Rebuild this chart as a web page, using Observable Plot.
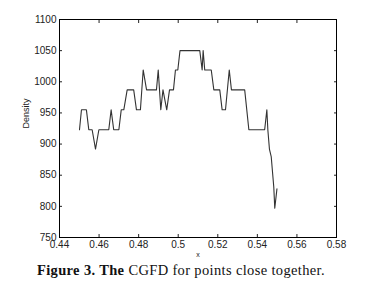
<!DOCTYPE html>
<html><head><meta charset="utf-8">
<script src="https://cdn.jsdelivr.net/npm/d3@7"></script>
<script src="https://cdn.jsdelivr.net/npm/@observablehq/plot@0.6"></script>
<style>
body{margin:0;background:#fff;}
#cap{font-family:"Liberation Serif","Times New Roman",serif;font-size:14.5px;letter-spacing:0.35px;color:#111;line-height:16px;margin-top:3.5px;padding-left:37px;white-space:nowrap;}
</style></head><body>
<div id="chart"></div>
<div id="cap"><b>Figure 3. The</b> CGFD for points close together.</div>
<script>
const xValues = [0.4501,0.4511,0.4536,0.4548,0.4565,0.4582,0.4599,0.4649,0.4661,0.4674,0.4700,0.4712,0.4725,0.4742,0.4775,0.4789,0.4809,0.4823,0.4840,0.4890,0.4899,0.4912,0.4923,0.4942,0.4956,0.4976,0.4986,0.4998,0.5009,0.5109,0.5121,0.5126,0.5134,0.5167,0.5180,0.5210,0.5222,0.5239,0.5258,0.5269,0.5336,0.5357,0.5437,0.5448,0.5453,0.5461,0.5470,0.5483,0.5488,0.5499];
const density = [923,955,955,923,923,892,923,923,955,923,923,955,955,987,987,955,955,1019,987,987,1019,955,987,955,987,987,1019,1019,1050,1050,1019,1050,1019,1019,987,987,955,955,1019,987,987,923,923,955,923,892,880,831,797,828];
const xTicks = [0.44,0.46,0.48,0.5,0.52,0.54,0.56,0.58];
const yTicks = [750,800,850,900,950,1000,1050,1100];
const data = xValues.map((x,i)=>({x, y: density[i]}));
const chart = Plot.plot({
  width:370, height:258,
  marginTop:19, marginBottom:21, marginLeft:59, marginRight:34,
  x:{domain:[0.44,0.58]},
  y:{domain:[750,1100]},
  style:{fontFamily:"'Liberation Sans',Arial,sans-serif", fontSize:"10px", color:"#222", background:"#fff", overflow:"visible"},
  marks:[
    Plot.axisX(xTicks,{anchor:"bottom", tickSize:-3, tickPadding:6.5, tickFormat:d=>String(d), label:null}),
    Plot.axisX(xTicks,{anchor:"top", tickSize:-3, tickFormat:()=>"", label:null}),
    Plot.axisY(yTicks,{anchor:"left", tickSize:-3, tickPadding:6, tickFormat:d=>String(d), label:null}),
    Plot.axisY(yTicks,{anchor:"right", tickSize:-3, tickFormat:()=>"", label:null}),
    Plot.frame({stroke:"#000"}),
    Plot.line(data,{x:"x", y:"y", stroke:"#333", strokeWidth:1.1}),
    Plot.text(["Density"],{frameAnchor:"left", dx:-33, rotate:-90, fontSize:9}),
    Plot.text(["x"],{frameAnchor:"bottom", dy:19, fontSize:7})
  ]
});
document.getElementById("chart").appendChild(chart);
</script>
</body></html>
